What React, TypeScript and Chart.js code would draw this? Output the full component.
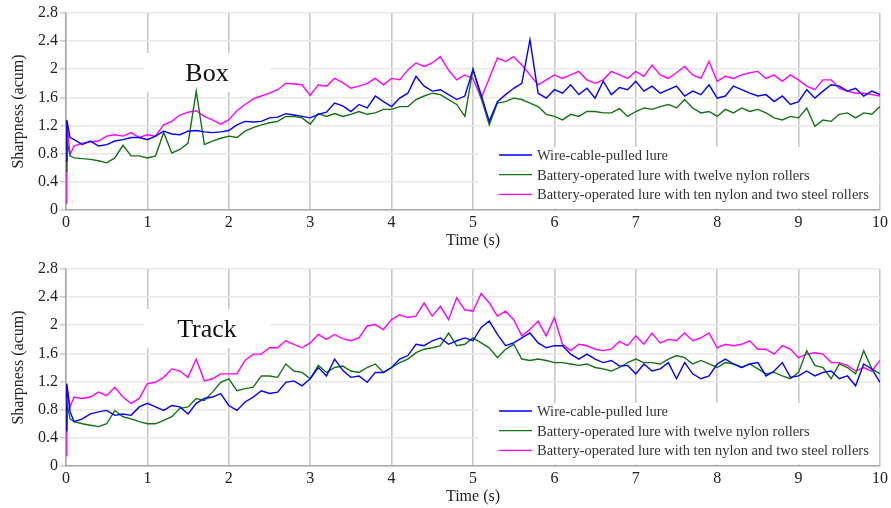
import React, { useEffect, useRef } from "react";
import { Chart, registerables } from "chart.js";

Chart.register(...registerables);

// ---- data ----
// sample times: start spike (0, 0.01, 0.05), then every 0.1 s to 10 s
const TIME_HEAD = [0, 0.01, 0.05];
const TIME_STEPS = Array.from({ length: 100 }, (_, i) => Number(((i + 1) / 10).toFixed(1)));
const TIME = [...TIME_HEAD, ...TIME_STEPS];

const X_TICKS = [0, 1, 2, 3, 4, 5, 6, 7, 8, 9, 10];
const Y_TICKS = [0, 0.4, 0.8, 1.2, 1.6, 2, 2.4, 2.8];

const SERIES_NAMES = [
  "Wire-cable-pulled lure",
  "Battery-operated lure with twelve nylon rollers",
  "Battery-operated lure with ten nylon and two steel rollers",
];

// Box
const BOX_WIRE = [
  0.70, 1.28, 1.03,
  1.00, 0.93, 0.98, 0.91, 0.93, 0.98, 1.00, 1.03, 1.03, 1.00,
  1.05, 1.12, 1.08, 1.07, 1.12, 1.13, 1.11, 1.10, 1.11, 1.13,
  1.21, 1.26, 1.25, 1.26, 1.31, 1.32, 1.37, 1.35, 1.33, 1.31,
  1.36, 1.39, 1.52, 1.48, 1.40, 1.50, 1.45, 1.62, 1.54, 1.47,
  1.59, 1.66, 1.90, 1.76, 1.69, 1.71, 1.64, 1.57, 1.62, 2.00,
  1.64, 1.26, 1.54, 1.64, 1.73, 1.80, 2.42, 1.66, 1.59, 1.71,
  1.66, 1.78, 1.64, 1.73, 1.59, 1.83, 1.64, 1.74, 1.71, 1.83,
  1.69, 1.76, 1.66, 1.71, 1.76, 1.62, 1.69, 1.64, 1.78, 1.59,
  1.62, 1.76, 1.71, 1.66, 1.62, 1.64, 1.54, 1.62, 1.50, 1.54,
  1.71, 1.59, 1.69, 1.78, 1.76, 1.69, 1.73, 1.62, 1.69, 1.64,
];
const BOX_TWELVE = [
  0.55, 0.98, 0.77,
  0.74, 0.73, 0.72, 0.70, 0.67, 0.74, 0.92, 0.77, 0.77, 0.74,
  0.77, 1.10, 0.81, 0.86, 0.95, 1.69, 0.93, 0.98, 1.02, 1.05,
  1.03, 1.12, 1.17, 1.21, 1.24, 1.26, 1.33, 1.33, 1.31, 1.22,
  1.37, 1.33, 1.37, 1.33, 1.36, 1.40, 1.36, 1.38, 1.43, 1.43,
  1.47, 1.47, 1.57, 1.62, 1.66, 1.64, 1.57, 1.50, 1.33, 2.00,
  1.59, 1.21, 1.52, 1.54, 1.59, 1.57, 1.52, 1.47, 1.36, 1.33,
  1.28, 1.36, 1.33, 1.40, 1.40, 1.38, 1.38, 1.44, 1.33, 1.40,
  1.45, 1.43, 1.47, 1.50, 1.45, 1.57, 1.45, 1.38, 1.40, 1.33,
  1.43, 1.38, 1.45, 1.40, 1.43, 1.38, 1.31, 1.28, 1.33, 1.31,
  1.45, 1.19, 1.28, 1.26, 1.36, 1.38, 1.31, 1.38, 1.36, 1.47,
];
const BOX_TEN = [
  0.10, 1.26, 0.79,
  0.91, 0.95, 0.97, 0.98, 1.05, 1.07, 1.05, 1.10, 1.03, 1.07,
  1.05, 1.21, 1.26, 1.35, 1.39, 1.41, 1.33, 1.28, 1.22, 1.28,
  1.41, 1.50, 1.58, 1.62, 1.66, 1.71, 1.80, 1.79, 1.78, 1.63,
  1.78, 1.76, 1.87, 1.81, 1.73, 1.76, 1.80, 1.87, 1.78, 1.87,
  1.85, 1.99, 2.09, 2.04, 2.09, 2.18, 1.99, 1.85, 1.92, 1.87,
  1.59, 1.87, 2.16, 2.11, 2.18, 2.06, 1.92, 1.78, 1.85, 1.92,
  1.87, 1.92, 1.97, 1.85, 1.80, 1.85, 1.97, 1.92, 1.87, 1.97,
  1.90, 2.06, 1.92, 1.87, 1.95, 2.04, 1.92, 1.87, 2.11, 1.83,
  1.90, 1.87, 1.92, 1.95, 1.97, 1.87, 1.92, 1.83, 1.92, 1.85,
  1.76, 1.71, 1.85, 1.85, 1.73, 1.69, 1.66, 1.66, 1.64, 1.62,
];

// Track
const TRACK_WIRE = [
  0.50, 1.17, 0.77,
  0.63, 0.67, 0.74, 0.77, 0.79, 0.72, 0.74, 0.72, 0.84, 0.89,
  0.84, 0.79, 0.86, 0.84, 0.74, 0.89, 0.96, 0.98, 1.03, 0.86,
  0.79, 0.91, 0.98, 1.07, 1.03, 1.05, 1.19, 1.21, 1.14, 1.24,
  1.40, 1.28, 1.52, 1.36, 1.26, 1.28, 1.19, 1.33, 1.33, 1.40,
  1.52, 1.57, 1.73, 1.71, 1.78, 1.82, 1.73, 1.78, 1.82, 1.78,
  1.97, 2.06, 1.87, 1.71, 1.75, 1.82, 1.89, 1.75, 1.68, 1.71,
  1.71, 1.59, 1.52, 1.59, 1.52, 1.47, 1.50, 1.42, 1.43, 1.31,
  1.45, 1.35, 1.38, 1.47, 1.24, 1.47, 1.31, 1.24, 1.28, 1.45,
  1.52, 1.45, 1.40, 1.45, 1.47, 1.28, 1.35, 1.47, 1.26, 1.28,
  1.35, 1.28, 1.33, 1.35, 1.24, 1.28, 1.14, 1.45, 1.38, 1.19,
];
const TRACK_TWELVE = [
  0.60, 0.90, 0.67,
  0.63, 0.60, 0.58, 0.56, 0.60, 0.79, 0.70, 0.67, 0.63, 0.60,
  0.60, 0.65, 0.70, 0.82, 0.84, 0.96, 0.93, 1.05, 1.19, 1.24,
  1.07, 1.10, 1.12, 1.28, 1.28, 1.26, 1.45, 1.35, 1.33, 1.24,
  1.43, 1.33, 1.40, 1.42, 1.35, 1.33, 1.40, 1.45, 1.33, 1.40,
  1.47, 1.52, 1.61, 1.66, 1.68, 1.71, 1.89, 1.71, 1.73, 1.82,
  1.75, 1.68, 1.54, 1.66, 1.73, 1.52, 1.50, 1.52, 1.50, 1.47,
  1.47, 1.45, 1.43, 1.45, 1.40, 1.38, 1.35, 1.40, 1.47, 1.52,
  1.47, 1.47, 1.45, 1.52, 1.57, 1.54, 1.45, 1.50, 1.45, 1.40,
  1.47, 1.45, 1.40, 1.45, 1.38, 1.31, 1.33, 1.28, 1.24, 1.33,
  1.64, 1.43, 1.40, 1.24, 1.45, 1.40, 1.31, 1.64, 1.38, 1.31,
];
const TRACK_TEN = [
  0.15, 1.14, 0.84,
  0.98, 0.96, 0.98, 1.05, 1.00, 1.12, 0.98, 0.89, 0.96, 1.17,
  1.19, 1.26, 1.38, 1.35, 1.26, 1.52, 1.21, 1.24, 1.31, 1.31,
  1.31, 1.50, 1.59, 1.59, 1.68, 1.68, 1.78, 1.73, 1.68, 1.75,
  1.87, 1.80, 1.87, 1.81, 1.78, 1.82, 1.99, 2.01, 1.94, 2.08,
  2.15, 2.11, 2.13, 2.32, 2.13, 2.27, 2.08, 2.39, 2.22, 2.20,
  2.45, 2.32, 2.13, 2.20, 2.08, 1.85, 1.94, 2.06, 1.85, 2.11,
  1.73, 1.64, 1.73, 1.71, 1.66, 1.64, 1.66, 1.77, 1.71, 1.85,
  1.73, 1.89, 1.75, 1.80, 1.78, 1.89, 1.78, 1.82, 1.89, 1.68,
  1.73, 1.71, 1.73, 1.78, 1.66, 1.66, 1.59, 1.71, 1.66, 1.54,
  1.59, 1.61, 1.59, 1.47, 1.47, 1.43, 1.35, 1.40, 1.35, 1.50,
];

// ---- styles ----
const COLORS = ["#0000ff", "#137313", "#ff00ff"];
const FONT = "'Liberation Serif', 'Times New Roman', serif";
const TEXT_COLOR = "#222222";

type PanelProps = {
  series: number[][];
  label: string;
  height: number;
  plotTop: number;
  plotBottom: number;
  titlePadBottom: number;
};

function Panel({ series, label, height, plotTop, plotBottom, titlePadBottom }: PanelProps) {
  const ref = useRef<HTMLCanvasElement | null>(null);

  useEffect(() => {
    const canvas = ref.current;
    if (!canvas) return;

    const overlay = {
      id: "overlay",
      beforeDatasetsDraw(chart: any) {
        const { ctx, chartArea } = chart;
        ctx.save();
        ctx.fillStyle = "#ffffff";
        // label box
        ctx.fillRect(chartArea.left + 78, chartArea.top + 40, 126, 39);
        // legend box
        ctx.fillRect(chartArea.left + 412, chartArea.bottom - 63, chartArea.right - chartArea.left - 414, 61.5);
        ctx.restore();
      },
      afterDatasetsDraw(chart: any) {
        const { ctx, chartArea } = chart;
        ctx.save();
        ctx.fillStyle = "#111111";
        ctx.font = `26px ${FONT}`;
        ctx.textAlign = "center";
        ctx.textBaseline = "alphabetic";
        ctx.fillText(label, chartArea.left + 141, chartArea.top + 67.5);

        ctx.font = `14.5px ${FONT}`;
        ctx.textAlign = "left";
        ctx.textBaseline = "middle";
        const lx = chartArea.left + 433;
        SERIES_NAMES.forEach((name, i) => {
          const y = chartArea.bottom - 55 + i * 19.7;
          ctx.strokeStyle = COLORS[i];
          ctx.lineWidth = 1.3;
          ctx.beginPath();
          ctx.moveTo(lx, y);
          ctx.lineTo(lx + 33, y);
          ctx.stroke();
          ctx.fillStyle = "#333333";
          ctx.fillText(name, lx + 38, y + 1);
        });
        ctx.restore();
      },
    };

    const chart = new Chart(canvas, {
      type: "line",
      data: {
        datasets: series.map((vals, i) => ({
          label: SERIES_NAMES[i],
          data: vals.map((v, j) => ({ x: TIME[j], y: v })),
          borderColor: COLORS[i],
          backgroundColor: COLORS[i],
          borderWidth: 1.4,
          pointRadius: 0,
          tension: 0,
          fill: false,
        })),
      },
      options: {
        animation: false,
        responsive: false,
        maintainAspectRatio: false,
        events: [],
        layout: { padding: { top: plotTop, right: 10, bottom: 0, left: 0 } },
        plugins: {
          legend: { display: false },
          tooltip: { enabled: false },
          title: { display: false },
        },
        scales: {
          x: {
            type: "linear",
            min: 0,
            max: 10,
            afterBuildTicks: (scale: any) => {
              scale.ticks = X_TICKS.map((v) => ({ value: v }));
            },
            afterFit: (scale: any) => {
              scale.height = height - plotBottom;
            },
            ticks: {
              padding: 3,
              maxRotation: 0,
              autoSkip: false,
              color: TEXT_COLOR,
              font: { family: FONT, size: 16 },
              callback: (v: any) => String(v),
            },
            grid: {
              color: "#c8c8c8",
              lineWidth: 1.6,
              drawTicks: false,
            },
            border: { color: "#a8a8a8", width: 1.5 },
            title: {
              display: true,
              text: "Time (s)",
              color: TEXT_COLOR,
              font: { family: FONT, size: 16 },
              padding: { top: 0, bottom: titlePadBottom },
            },
          },
          y: {
            type: "linear",
            min: 0,
            max: 2.8,
            afterBuildTicks: (scale: any) => {
              scale.ticks = Y_TICKS.map((v) => ({ value: v }));
            },
            afterFit: (scale: any) => {
              scale.width = 66;
            },
            ticks: {
              padding: 2,
              color: TEXT_COLOR,
              font: { family: FONT, size: 16 },
              callback: (v: any) => String(v),
            },
            grid: {
              color: "#e8e8e8",
              lineWidth: 1.6,
              tickLength: 6,
              tickColor: "#cfcfcf",
            },
            border: { color: "#a8a8a8", width: 1.5 },
            title: {
              display: true,
              text: "Sharpness (acum)",
              color: TEXT_COLOR,
              font: { family: FONT, size: 16 },
              padding: { top: 9, bottom: 0 },
            },
          },
        },
      },
      plugins: [overlay],
    });

    return () => chart.destroy();
  }, [series, label, height, plotTop, plotBottom, titlePadBottom]);

  return (
    <div style={{ width: 891, height, position: "relative" }}>
      <canvas ref={ref} width={891} height={height} style={{ display: "block", width: 891, height }} />
    </div>
  );
}

const BOX_SERIES = [BOX_WIRE, BOX_TWELVE, BOX_TEN];
const TRACK_SERIES = [TRACK_WIRE, TRACK_TWELVE, TRACK_TEN];

export default function App() {
  useEffect(() => {
    document.body.style.margin = "0";
    document.body.style.background = "#ffffff";
  }, []);
  return (
    <div style={{ width: 891, height: 508, background: "#ffffff", overflow: "hidden" }}>
      <Panel series={BOX_SERIES} label="Box" height={252} plotTop={13} plotBottom={210} titlePadBottom={2} />
      <Panel series={TRACK_SERIES} label="Track" height={256} plotTop={17} plotBottom={214} titlePadBottom={2} />
    </div>
  );
}
